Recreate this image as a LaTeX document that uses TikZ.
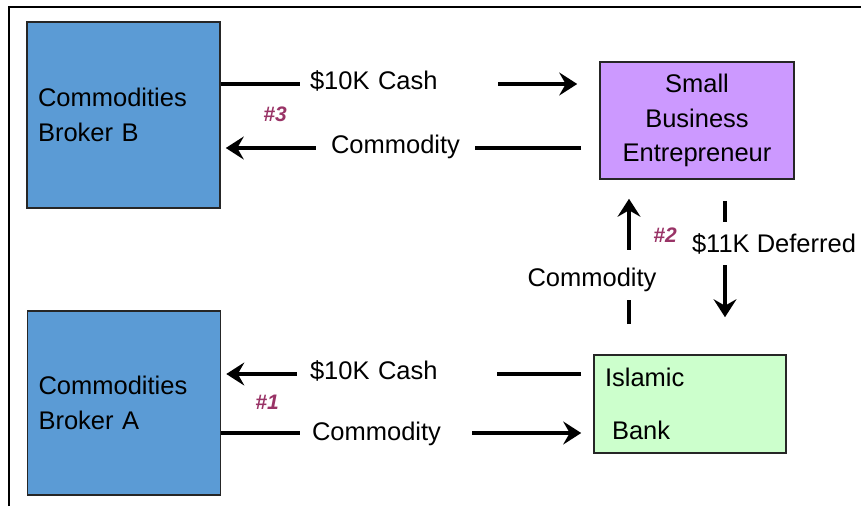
\documentclass[tikz,border=0pt]{standalone}
\usepackage{fontspec}
\setmainfont{Liberation Sans}
\usetikzlibrary{arrows.meta,backgrounds}
\definecolor{brokerblue}{RGB}{91,155,213}
\definecolor{entviolet}{RGB}{204,153,255}
\definecolor{bankgreen}{RGB}{204,255,204}
\definecolor{stepred}{RGB}{153,51,102}

\begin{document}
\begin{tikzpicture}[x=1pt, y=-1pt,
    party/.style ={rectangle, draw=black!85, line width=1.6pt, font=\fontsize{25.5}{34.5}\selectfont},
    broker/.style ={party, fill=brokerblue, text width=171pt, inner xsep=11pt, align=left, minimum height=186pt},
    flowlabel/.style ={fill=white, font=\fontsize{25.5}{34.5}\selectfont, text height=18pt, text depth=8pt, inner ysep=2pt},
    flow/.style ={line width=3.5pt, -{Stealth[length=18pt,width=23pt,inset=6.5pt]}},
    stepno/.style ={text=stepred, font=\fontsize{21}{24}\selectfont\bfseries\itshape}]
   \useasboundingbox (0,0) rectangle (861,506);
   \draw[line width=1.2pt] (9,506) -- (9,7) -- (861,7);

   \node[broker] (B) at (123.5,115) {Commodities\\Broker B};
   \node[broker, minimum height=184pt] (A) at (124,403) {Commodities\\Broker A};
   \node[party, fill=entviolet, minimum width=194pt, minimum height=117pt, align=center] (E) at (697,120.5) {Small\\Business\\Entrepreneur};
   \node[party, fill=bankgreen, text width=170pt, inner xsep=11pt, align=left, minimum height=98pt] (I) at (690,404) {Islamic\\[18pt]\hspace*{7pt}Bank};

   \node[flowlabel, text width=178pt, inner xsep=10pt, align=left] (cashB) at (399,84) {\$10K Cash};
   \node[flowlabel, inner xsep=15pt] (comB) at (395.5,148) {Commodity};
   \node[flowlabel, text width=174pt, inner xsep=13pt, align=left] (cashA) at (397,374) {\$10K Cash};
   \node[flowlabel, text width=148pt, inner xsep=12pt, align=left, text height=20pt, text depth=6pt] (comA) at (386,433) {Commodity};
   \node[flowlabel, inner ysep=12pt, text height=24pt, text depth=2pt] (comE) at (592,275) {Commodity};
   \node[flowlabel, inner ysep=8.5pt, text height=22pt, text depth=4pt] (defE) at (774,243.5) {\$11K Deferred};

   \node[stepno] (s3) at (275,114) {\#3};
   \node[stepno] (s2) at (665,235) {\#2};
   \node[stepno] (s1) at (267,402) {\#1};

   \begin{scope}[on background layer]
   \draw[flow, shorten >=22pt] (B.east |- cashB) to (E.west |- cashB);
   \draw[flow, shorten <=18pt, shorten >=5pt] (E.west |- comB) to (B.east |- comB);
   \draw[flow, shorten <=12pt, shorten >=5pt] (I.west |- cashA) to (A.east |- cashA);
   \draw[flow, shorten >=12pt] (A.east |- comA) to (I.west |- comA);
   \draw[flow, shorten <=30pt, shorten >=19pt] ([xshift=-61pt]I.north) to ([xshift=-68pt]E.south);
   \draw[flow, shorten <=21pt, shorten >=37pt] ([xshift=28pt]E.south) to ([xshift=35pt]I.north);
   \end{scope}
 \end{tikzpicture}
\end{document}
